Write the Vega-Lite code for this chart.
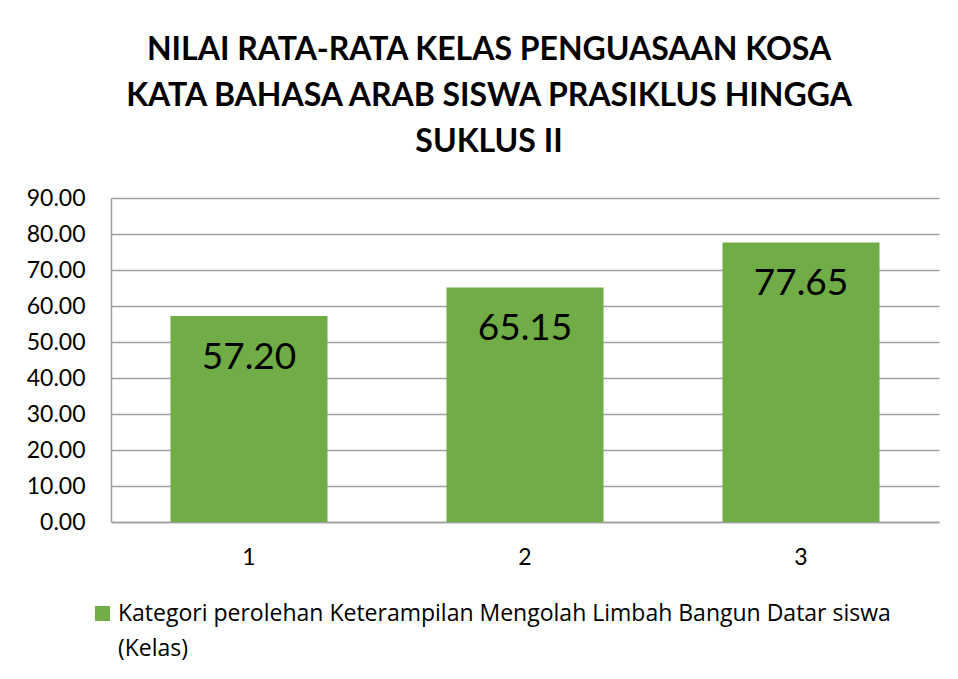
{
  "$schema": "https://vega.github.io/schema/vega-lite/v6.json",
  "width": 828,
  "height": 324,
  "autosize": {"type": "none"},
  "padding": {"left": 111, "top": 198, "right": 19, "bottom": 157},
  "background": "white",
  "title": {
    "text": ["NILAI RATA-RATA KELAS PENGUASAAN KOSA", "KATA BAHASA ARAB SISWA PRASIKLUS HINGGA", "SUKLUS II"],
    "font": "Lato",
    "fontSize": 32,
    "fontWeight": "bold",
    "color": "#000000",
    "lineHeight": 46,
    "anchor": "middle",
    "dx": -36,
    "offset": 28
  },
  "data": {
    "values": [
      {"siklus": "1", "nilai": 57.20, "series": "Kategori perolehan Keterampilan Mengolah Limbah Bangun Datar siswa (Kelas)"},
      {"siklus": "2", "nilai": 65.15, "series": "Kategori perolehan Keterampilan Mengolah Limbah Bangun Datar siswa (Kelas)"},
      {"siklus": "3", "nilai": 77.65, "series": "Kategori perolehan Keterampilan Mengolah Limbah Bangun Datar siswa (Kelas)"}
    ]
  },
  "encoding": {
    "x": {
      "field": "siklus",
      "type": "nominal",
      "sort": null,
      "title": null,
      "scale": {"paddingInner": 0.431, "paddingOuter": 0.2155},
      "axis": {
        "labelAngle": 0,
        "labelFont": "Lato",
        "labelFontSize": 23,
        "labelColor": "#000000",
        "labelPadding": 24,
        "ticks": false,
        "domain": true,
        "domainColor": "#A0A0A0",
        "domainWidth": 1.5,
        "grid": false
      }
    },
    "y": {
      "field": "nilai",
      "type": "quantitative",
      "title": null,
      "scale": {"domain": [0, 90], "nice": false, "zero": true},
      "axis": {
        "values": [0, 10, 20, 30, 40, 50, 60, 70, 80, 90],
        "format": ".2f",
        "labelFont": "Lato",
        "labelFontSize": 23,
        "labelColor": "#000000",
        "labelPadding": 26,
        "ticks": false,
        "domain": true,
        "domainColor": "#A0A0A0",
        "domainWidth": 1.5,
        "grid": true,
        "gridColor": "#A0A0A0",
        "gridWidth": 1.5
      }
    }
  },
  "layer": [
    {
      "mark": {"type": "bar"},
      "encoding": {
        "color": {
          "field": "series",
          "type": "nominal",
          "scale": {"range": ["#70AD47"]},
          "legend": {
            "title": null,
            "orient": "none",
            "legendX": -20,
            "legendY": 404,
            "padding": 0,
            "symbolType": "square",
            "symbolSize": 225,
            "symbolStrokeWidth": 0,
            "symbolOpacity": 1,
            "labelFont": "Open Sans",
            "labelFontSize": 23,
            "labelColor": "#000000",
            "labelLimit": 0,
            "labelOffset": 4,
            "labelExpr": "[slice(datum.label, 0, indexof(datum.label, ' (')), slice(datum.label, indexof(datum.label, ' (') + 1)]"
          }
        }
      }
    },
    {
      "mark": {"type": "text", "font": "Lato", "fontSize": 37, "color": "#000000", "baseline": "alphabetic", "dy": 53},
      "encoding": {
        "text": {"field": "nilai", "type": "quantitative", "format": ".2f"}
      }
    }
  ],
  "config": {
    "view": {"stroke": null},
    "style": {"guide-label": {"lineHeight": 35}}
  }
}
